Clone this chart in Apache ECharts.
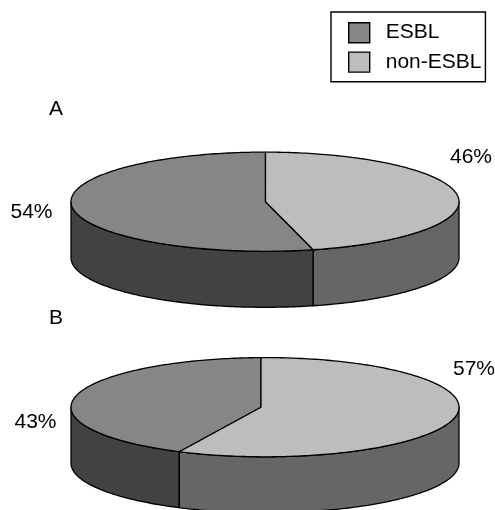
<!DOCTYPE html>
<html>
<head>
<meta charset="utf-8">
<style>
  html, body { margin: 0; padding: 0; background: #fff; }
  #main { width: 495px; height: 510px; }
</style>
<script src="https://cdn.jsdelivr.net/npm/echarts@6/dist/echarts.min.js"></script>
</head>
<body>
<div id="main"></div>
<script>
// percent per pie, pie A then pie B
var pieNames = ['A', 'B'];
var esblValues = [54, 43];
var nonEsblValues = [46, 57];

var fontName = '"Liberation Sans", Arial, sans-serif';
var fontSize = 21;
var colors = {
  esbl: { top: '#868686', wall: '#424242' },
  nonEsbl: { top: '#bdbdbd', wall: '#666666' }
};

// where each disc sits on the page
var frames = [
  { cx: 265, cy: 201.7, hubX: 265.5, turn: 0, esblLabel: [10.5, 212.5], nonEsblLabel: [450, 157] },
  { cx: 265, cy: 407.2, hubX: 261, turn: 1, esblLabel: [14.5, 422.5], nonEsblLabel: [453, 369.5] }
];
var rx = 194, ry = 49.6, depth = 56;

var chart = echarts.init(document.getElementById('main'), null, { renderer: 'canvas' });

// angles are clockwise from the top of the disc
function rim(f, deg, drop) {
  var t = deg * Math.PI / 180;
  return [f.cx + rx * Math.sin(t), f.cy - ry * Math.cos(t) + (drop || 0)];
}

function arc(f, from, to, drop) {
  var pts = [];
  var n = Math.max(2, Math.ceil(Math.abs(to - from)));
  for (var i = 0; i <= n; i++) {
    pts.push(rim(f, from + (to - from) * i / n, drop));
  }
  return pts;
}

function sliceRange(i, isEsbl) {
  var f = frames[i];
  var start = Math.asin((f.hubX - f.cx) / rx) * 180 / Math.PI; // first edge goes straight up from the hub
  var split = f.turn + nonEsblValues[i] * 3.6;
  return isEsbl ? [split, start + 360] : [start, split];
}

function renderSlice(isEsbl) {
  return function (params, api) {
    var i = params.dataIndex;
    var f = frames[i];
    var c = isEsbl ? colors.esbl : colors.nonEsbl;
    var r = sliceRange(i, isEsbl);
    var line = { stroke: '#000', lineWidth: 1.3, lineJoin: 'round' };
    var kids = [];

    // only the front half of the wall can be seen
    var a = Math.max(r[0], 90), b = Math.min(r[1], 270);
    if (b > a) {
      var wall = arc(f, a, b, 0).concat(arc(f, b, a, depth));
      kids.push({
        type: 'polygon',
        shape: { points: wall },
        style: Object.assign({ fill: c.wall }, line)
      });
    }

    kids.push({
      type: 'polygon',
      shape: { points: [[f.hubX, f.cy]].concat(arc(f, r[0], r[1], 0)) },
      style: Object.assign({ fill: c.top }, line)
    });

    var pos = isEsbl ? f.esblLabel : f.nonEsblLabel;
    kids.push({
      type: 'text',
      x: pos[0],
      y: pos[1],
      style: {
        text: api.value(0) + '%',
        fill: '#000',
        font: fontSize + 'px ' + fontName,
        textAlign: 'left',
        textVerticalAlign: 'middle'
      }
    });
    return { type: 'group', children: kids };
  };
}

var option = {
  animation: false,
  title: [
    { text: pieNames[0], left: 49, top: 99, padding: 0, textStyle: { color: '#000', fontSize: fontSize, fontWeight: 'normal', fontFamily: fontName } },
    { text: pieNames[1], left: 49, top: 308, padding: 0, textStyle: { color: '#000', fontSize: fontSize, fontWeight: 'normal', fontFamily: fontName } }
  ],
  legend: {
    left: 331,
    top: 12,
    orient: 'vertical',
    align: 'left',
    padding: [10, 4, 9, 17],
    itemWidth: 21,
    itemHeight: 20,
    itemGap: 8,
    borderColor: '#000',
    borderWidth: 1.4,
    selectedMode: false,
    textStyle: { color: '#000', fontSize: fontSize, fontFamily: fontName, padding: [0, 0, 0, 11] },
    data: [
      { name: 'ESBL', icon: 'rect', itemStyle: { color: colors.esbl.top, borderColor: '#000', borderWidth: 1.4 } },
      { name: 'non-ESBL', icon: 'rect', itemStyle: { color: colors.nonEsbl.top, borderColor: '#000', borderWidth: 1.4 } }
    ]
  },
  series: [
    { name: 'ESBL', type: 'custom', coordinateSystem: 'none', silent: true, data: esblValues, renderItem: renderSlice(true) },
    { name: 'non-ESBL', type: 'custom', coordinateSystem: 'none', silent: true, data: nonEsblValues, renderItem: renderSlice(false) }
  ]
};

chart.setOption(option);
</script>
</body>
</html>
